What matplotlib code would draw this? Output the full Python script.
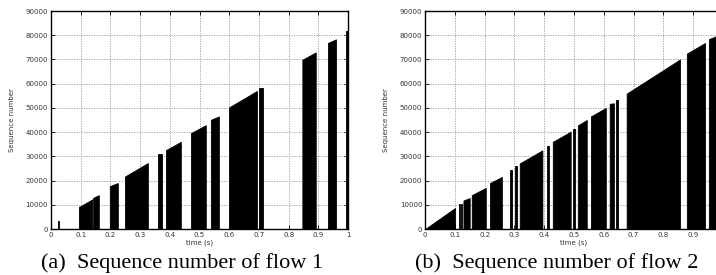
import numpy as np
import matplotlib.pyplot as plt

# --- data: each burst is a ramp from (t0, y0) to (t1, y1) ---
flow1_t0 = [0.024, 0.094, 0.142, 0.198, 0.249, 0.360, 0.387, 0.471, 0.538, 0.599, 0.700, 0.846, 0.932, 0.992]
flow1_t1 = [0.028, 0.139, 0.161, 0.225, 0.326, 0.373, 0.437, 0.521, 0.565, 0.693, 0.713, 0.891, 0.959, 1.000]
flow1_y0 = [3300, 9100, 12900, 17750, 21700, 30800, 32600, 39600, 45100, 50200, 58300, 69900, 76800, 81700]
flow1_y1 = [3300, 12250, 14000, 19000, 27250, 30800, 36000, 42900, 46500, 57000, 58300, 72900, 78300, 81700]

flow2_t0 = [0.000, 0.114, 0.121, 0.129, 0.157, 0.218, 0.284, 0.303, 0.318, 0.409, 0.429, 0.496, 0.513, 0.557, 0.620, 0.640, 0.677, 0.879, 0.953]
flow2_t1 = [0.101, 0.118, 0.124, 0.150, 0.204, 0.258, 0.291, 0.310, 0.394, 0.415, 0.489, 0.502, 0.543, 0.607, 0.634, 0.647, 0.856, 0.940, 1.010]
flow2_y0 = [0, 10300, 10300, 11800, 14000, 19000, 24300, 26000, 27100, 34300, 36000, 41300, 42800, 46500, 51700, 53200, 55900, 72400, 78400]
flow2_y1 = [8700, 10300, 10300, 12800, 17000, 21500, 24300, 26000, 32500, 34300, 40200, 41300, 45000, 50000, 51900, 53200, 70000, 76800, 81200]

xticks = np.arange(0, 1.01, 0.1)
xticklabels = ['0', '0.1', '0.2', '0.3', '0.4', '0.5', '0.6', '0.7', '0.8', '0.9', '1']
yticks = np.arange(0, 90001, 10000)
captions = ['(a)  Sequence number of flow 1', '(b)  Sequence number of flow 2']

fig = plt.figure(figsize=(7.16, 2.75), dpi=100)
ax1 = fig.add_axes([0.0712, 0.167, 0.415, 0.793])
ax2 = fig.add_axes([0.5936, 0.167, 0.416, 0.793])


def draw(ax, t0, t1, y0, y1, labels):
    for a, b, ya, yb in zip(t0, t1, y0, y1):
        ax.fill_between([a, b], [ya, yb], 0, color='black', lw=0.6, edgecolor='black')
    ax.set_xlim(0, 1)
    ax.set_ylim(0, 90000)
    ax.set_xticks(xticks)
    ax.set_xticklabels(labels)
    ax.set_yticks(yticks)
    ax.grid(True, color='#999999', linestyle=(0, (1.5, 1.5)), lw=0.6)
    ax.set_axisbelow(True)
    ax.tick_params(direction='in', length=3, width=0.6, labelsize=5, pad=2,
                   top=True, right=True, colors='black', labelcolor='#333333')
    for s in ax.spines.values():
        s.set_linewidth(1.0)
    ax.set_xlabel('time (s)', fontsize=5, labelpad=1, color='#333333')
    ax.set_ylabel('Sequence number', fontsize=5, labelpad=8, color='#333333')


draw(ax1, flow1_t0, flow1_t1, flow1_y0, flow1_y1, xticklabels)
# the right panel runs past the figure edge, its "1" label is not shown
draw(ax2, flow2_t0, flow2_t1, flow2_y0, flow2_y1, xticklabels[:-1] + [''])

fig.text(182 / 716, 0.027, captions[0], ha='center', va='baseline',
         fontsize=16, family='Liberation Serif')
fig.text(557 / 716, 0.027, captions[1], ha='center', va='baseline',
         fontsize=16, family='Liberation Serif')

fig.savefig('out.png', dpi=100)
